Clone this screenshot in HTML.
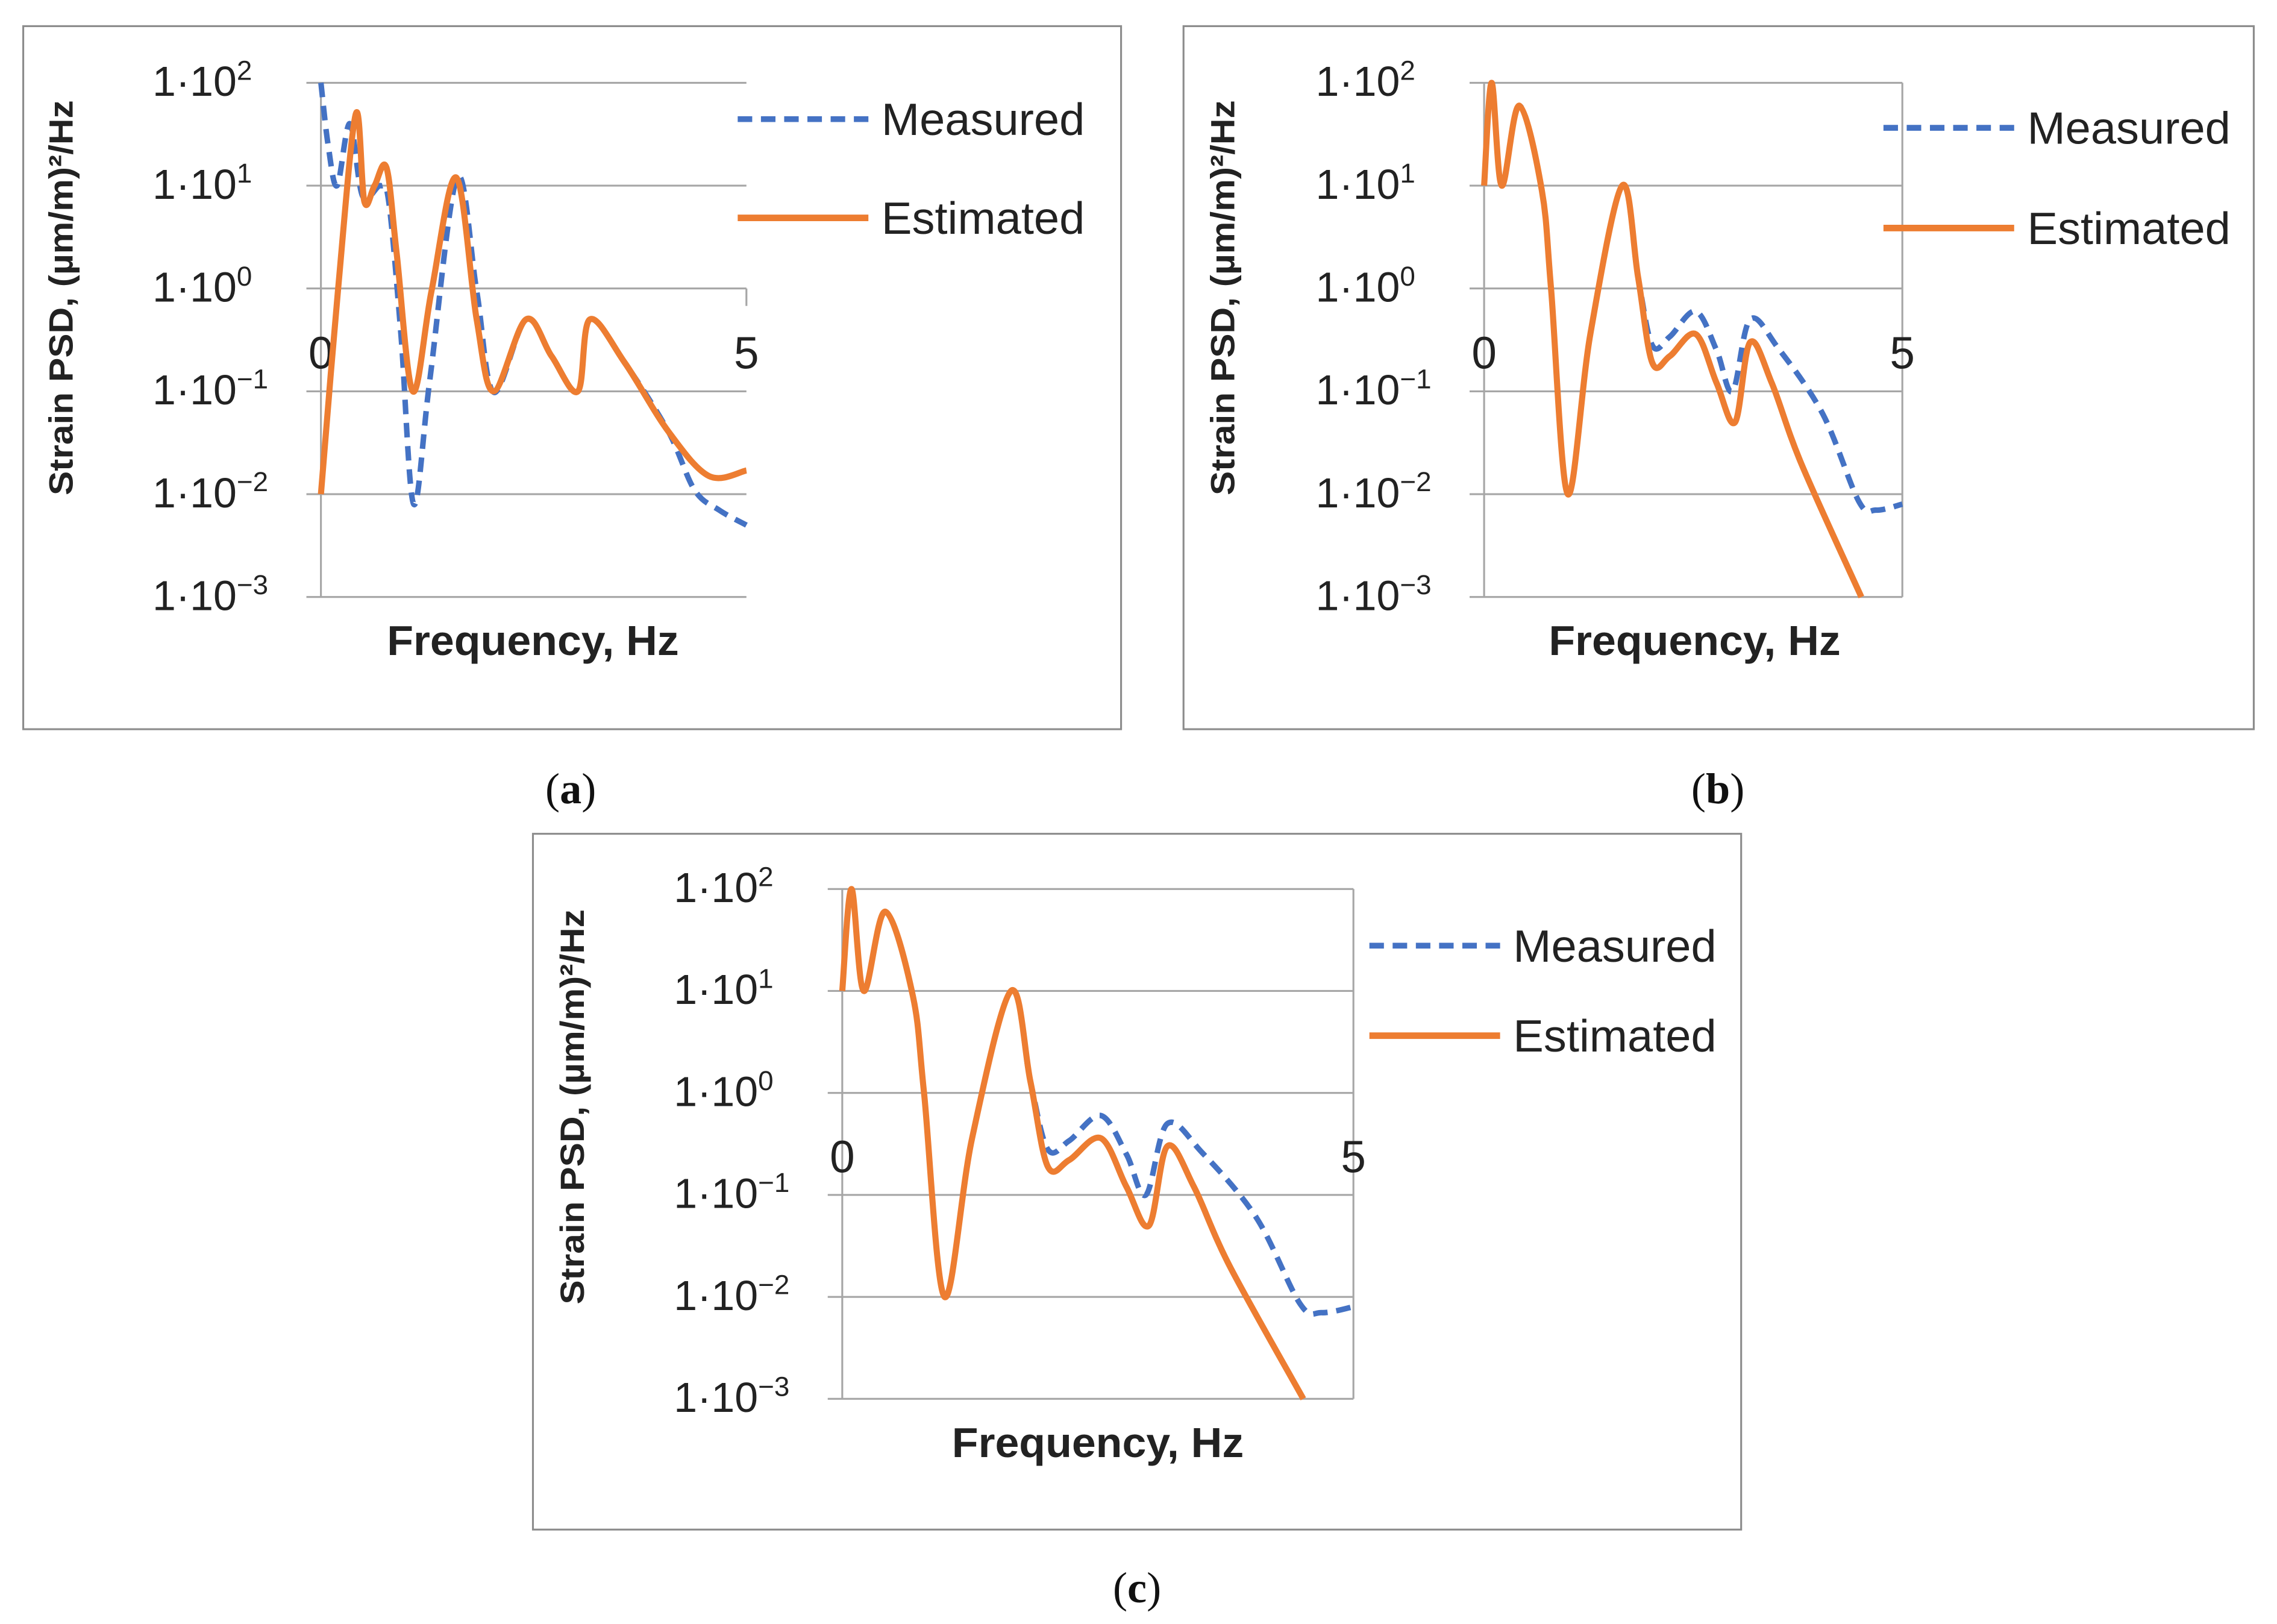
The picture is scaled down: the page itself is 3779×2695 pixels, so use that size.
<!DOCTYPE html>
<html><head><meta charset="utf-8">
<style>
html,body{margin:0;padding:0;background:#fff;}
svg{display:block;}
text{font-family:"Liberation Sans",sans-serif;}
</style></head>
<body>
<svg id="fig" width="3779" height="2695" viewBox="0 0 1568 1118" preserveAspectRatio="none" xmlns="http://www.w3.org/2000/svg"></svg>
<script>
// ---- Data (frequency in Hz, PSD in (µm/m)^2/Hz) ----
const yTickExp = [2, 1, 0, -1, -2, -3];
const xTickLabels = ["0", "5"];
const seriesNames = ["Measured", "Estimated"];

const aMeasF = [0, 0.085, 0.19, 0.34, 0.49, 0.70, 0.80, 0.94, 1.09, 1.28, 1.60, 1.83, 2.03, 2.41, 2.71, 3.02, 3.16, 3.57, 4.08, 4.39, 4.68, 5.0];
const aMeasV = [100, 24.7, 10, 40, 7.9, 10, 6.7, 0.36, 0.008, 0.13, 12, 0.95, 0.098, 0.5, 0.22, 0.1, 0.5, 0.19, 0.041, 0.011, 0.007, 0.005];
const aEstF = [0, 0.2, 0.41, 0.51, 0.63, 0.77, 0.89, 1.08, 1.30, 1.59, 1.83, 2.03, 2.41, 2.71, 3.02, 3.16, 3.57, 4.08, 4.56, 5.0];
const aEstV = [0.01, 0.95, 50, 7, 10, 15, 2.2, 0.1, 0.95, 12, 0.5, 0.1, 0.5, 0.22, 0.1, 0.5, 0.19, 0.041, 0.015, 0.017];

const bMeasF = [0, 0.09, 0.21, 0.42, 0.69, 0.80, 1.0, 1.27, 1.65, 1.84, 2.01, 2.22, 2.53, 2.78, 2.97, 3.18, 3.52, 4.05, 4.48, 4.69, 5.0];
const bMeasV = [10, 100, 10, 60, 9, 1, 0.01, 0.36, 10, 1.3, 0.28, 0.34, 0.6, 0.25, 0.1, 0.5, 0.26, 0.06, 0.0085, 0.007, 0.008];
const bEstF = [0, 0.09, 0.21, 0.42, 0.69, 0.80, 1.0, 1.27, 1.65, 1.84, 2.01, 2.22, 2.53, 2.78, 3.0, 3.18, 3.44, 3.79, 4.51];
const bEstV = [10, 100, 10, 60, 9, 1, 0.01, 0.36, 10, 1.3, 0.19, 0.22, 0.36, 0.12, 0.05, 0.3, 0.12, 0.02, 0.001];

const cMeasF = bMeasF.slice(), cMeasV = bMeasV.slice();
const cEstF = bEstF.slice(), cEstV = bEstV.slice();

const NS = "http://www.w3.org/2000/svg";
const svg = document.getElementById("fig");
function el(tag, attrs, parent) {
  const e = document.createElementNS(NS, tag);
  for (const k in attrs) e.setAttribute(k, attrs[k]);
  (parent || svg).appendChild(e);
  return e;
}
function smoothPath(pts) {
  let d = "M" + pts[0][0].toFixed(2) + "," + pts[0][1].toFixed(2);
  for (let i = 0; i < pts.length - 1; i++) {
    const p0 = pts[Math.max(0, i - 1)], p1 = pts[i], p2 = pts[i + 1], p3 = pts[Math.min(pts.length - 1, i + 2)];
    const c1x = p1[0] + (p2[0] - p0[0]) / 6, c1y = p1[1] + (p2[1] - p0[1]) / 6;
    const c2x = p2[0] - (p3[0] - p1[0]) / 6, c2y = p2[1] - (p3[1] - p1[1]) / 6;
    d += " C" + c1x.toFixed(2) + "," + c1y.toFixed(2) + " " + c2x.toFixed(2) + "," + c2y.toFixed(2) + " " + p2[0].toFixed(2) + "," + p2[1].toFixed(2);
  }
  return d;
}

function panel(cfg) {
  const g = el("g", {});
  
  
  const frame = el("rect", {x: cfg.fx, y: cfg.fy, width: cfg.fw, height: cfg.fh, fill: "#fff", stroke: "#8c8c8c", "stroke-width": 1.3}, g);
  
  
  const L = cfg.px0, R = cfg.px1, T = cfg.py0, B = cfg.py1;
  const xs = f => L + (f / 5) * (R - L);
  const ys = v => T + (2 - Math.log10(v)) / 5 * (B - T);
  yTickExp.forEach(e => {
    const y = ys(Math.pow(10, e));
    const gl = el("line", {x1: L - 10, x2: R, y1: y, y2: y, stroke: "#a6a6a6", "stroke-width": 1.3}, g);
    
    
    const t = el("text", {x: L - 116, y: y + 9, "font-size": 29, fill: "#222"}, g);
    
    
    t.textContent = "1·10";
    const s = el("tspan", {"font-size": 19, dy: -11}, t);
    s.textContent = e < 0 ? "\u2212" + (-e) : String(e);
  });
  const ax = el("line", {x1: L, x2: L, y1: T, y2: B, stroke: "#a6a6a6", "stroke-width": 1.3}, g);
  
  
  const rx = el("line", {x1: R, x2: R, y1: cfg.rightFull ? T : ys(1), y2: cfg.rightFull ? B : ys(1) + 12, stroke: "#a6a6a6", "stroke-width": 1.3}, g);
  
  
  [0, 5].forEach((f, i) => {
    const t = el("text", {x: xs(f), y: ys(0.3) + 18, "text-anchor": "middle", "font-size": 31, fill: "#222"}, g);
    
    
    t.textContent = xTickLabels[i];
  });
  const mp = el("path", {d: smoothPath(cfg.mf.map((f, i) => [xs(f), ys(cfg.mv[i])])), fill: "none", stroke: "#4472C4", "stroke-width": 3.8, "stroke-dasharray": "10,6", "stroke-linejoin": "round"}, g);
  
  
  const ep = el("path", {d: smoothPath(cfg.ef.map((f, i) => [xs(f), ys(cfg.ev[i])])), fill: "none", stroke: "#ED7D31", "stroke-width": 4.2, "stroke-linejoin": "round"}, g);
  
  
  const yt = el("text", {transform: "translate(" + cfg.ytx + "," + cfg.ytc + ") rotate(-90)", "text-anchor": "middle", "font-size": 23, "font-weight": "bold", fill: "#222", textLength: 272, lengthAdjust: "spacingAndGlyphs"}, g);
  
  
  yt.textContent = "Strain PSD, (µm/m)²/Hz";
  const xt = el("text", {x: cfg.xtc, y: B + 40, "text-anchor": "middle", "font-size": 29, "font-weight": "bold", fill: "#222", textLength: 201, lengthAdjust: "spacingAndGlyphs"}, g);
  
  
  xt.textContent = "Frequency, Hz";
  const lm = el("line", {x1: cfg.lx, x2: cfg.lx + 90, y1: cfg.ly1, y2: cfg.ly1, stroke: "#4472C4", "stroke-width": 4, "stroke-dasharray": "10,6"}, g);
  
  
  const tm = el("text", {x: cfg.lx + 99, y: cfg.ly1 + 11, "font-size": 31, fill: "#222", textLength: 140, lengthAdjust: "spacingAndGlyphs"}, g);
  
  
  tm.textContent = seriesNames[0];
  const le = el("line", {x1: cfg.lx, x2: cfg.lx + 90, y1: cfg.ly2, y2: cfg.ly2, stroke: "#ED7D31", "stroke-width": 4.5}, g);
  
  
  const te = el("text", {x: cfg.lx + 99, y: cfg.ly2 + 11, "font-size": 31, fill: "#222", textLength: 140, lengthAdjust: "spacingAndGlyphs"}, g);
  
  
  te.textContent = seriesNames[1];
  const cap = el("text", {x: cfg.capx, y: cfg.capy, "text-anchor": "middle", "font-size": 30, fill: "#111", style: "font-family:'Liberation Serif',serif"}, svg);
  
  
  cap.textContent = "(";
  const b = el("tspan", {"font-weight": "bold"}, cap);
  b.textContent = cfg.id;
  const c2 = el("tspan", {}, cap);
  c2.textContent = ")";
}

panel({id: "a", fx: 16, fy: 18, fw: 756, fh: 484, px0: 221, px1: 514, py0: 57, py1: 411, rightFull: false,
  mf: aMeasF, mv: aMeasV, ef: aEstF, ev: aEstV, ytx: 50, ytc: 205, xtc: 367, lx: 508, ly1: 82, ly2: 150, capx: 393, capy: 553});
panel({id: "b", fx: 815, fy: 18, fw: 737, fh: 484, px0: 1022, px1: 1310, py0: 57, py1: 411, rightFull: true,
  mf: bMeasF, mv: bMeasV, ef: bEstF, ev: bEstV, ytx: 850, ytc: 205, xtc: 1167, lx: 1297, ly1: 88, ly2: 157, capx: 1183, capy: 553});
panel({id: "c", fx: 367, fy: 574, fw: 832, fh: 479, px0: 580, px1: 932, py0: 612, py1: 963, rightFull: true,
  mf: cMeasF, mv: cMeasV, ef: cEstF, ev: cEstV, ytx: 402, ytc: 762, xtc: 756, lx: 943, ly1: 651, ly2: 713, capx: 783, capy: 1103});
</script>
</body></html>
